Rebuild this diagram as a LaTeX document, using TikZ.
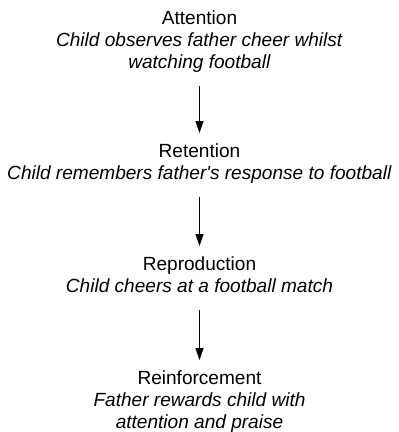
\documentclass[tikz,border=0pt]{standalone}
\usepackage{fontspec}
\setmainfont{Liberation Sans}
\usetikzlibrary{arrows.meta,positioning}

\tikzset{
  stage/.style={align=center,inner sep=0pt,anchor=north,
    font=\fontsize{14.3}{16.6}\selectfont},
  flow/.style={->,line width=1.1pt,shorten <=10pt,shorten >=7.5pt}
}

\begin{document}
\begin{tikzpicture}[>={Triangle[length=9pt,width=6pt]},x=0.75pt,y=-0.75pt]
  \useasboundingbox (0,0) rectangle (399,432);
  % the four stages
  \node[stage] (attention) at (199.5,10)
    {Attention\\\textit{Child observes father cheer whilst}\\\textit{watching football}};
  \node[stage] (retention) at (199.5,143)
    {Retention\\\textit{Child remembers father\textquotesingle s response to football}};
  \node[stage] (reproduction) at (199.5,256)
    {Reproduction\\\textit{Child cheers at a football match}\vphantom{g}};
  \node[stage] (reinforcement) at (199.5,370)
    {Reinforcement\\\textit{Father rewards child with}\\\textit{attention and praise}};
  % arrows between stages
  \draw[flow] (attention) -- (retention);
  \draw[flow] (retention) -- (reproduction);
  \draw[flow] (reproduction) -- (reinforcement);
\end{tikzpicture}
\end{document}
